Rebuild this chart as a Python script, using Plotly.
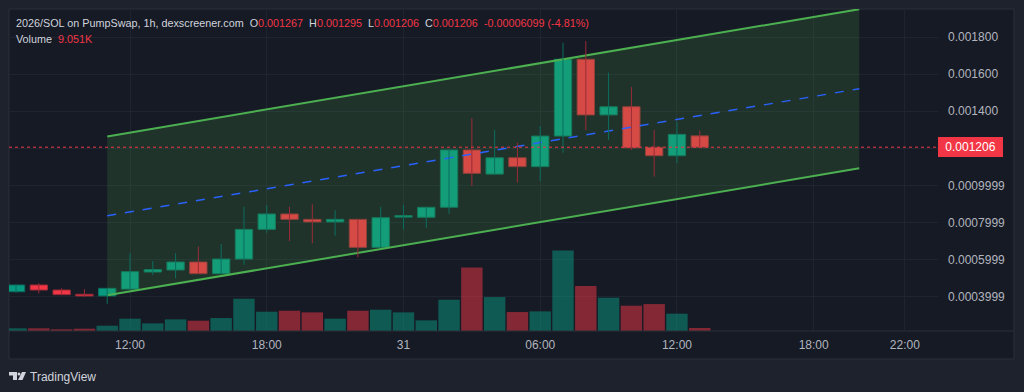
import plotly.graph_objects as go
import pandas as pd

# ---------------- data ----------------
start_time = "2025-03-30 07:00"
n = 31
times = pd.date_range(start_time, periods=n, freq="h")

opens = [0.000427, 0.000463, 0.000436, 0.000413, 0.000404, 0.000441, 0.000533, 0.000544,
         0.000587, 0.000524, 0.000603, 0.000763, 0.000846, 0.000817, 0.000803, 0.000817,
         0.000666, 0.000829, 0.000828, 0.000882, 0.001191, 0.001061, 0.001149, 0.001101,
         0.001266, 0.001680, 0.001380, 0.001424, 0.001205, 0.001160, 0.001267]
highs = [0.000465, 0.000472, 0.000445, 0.000440, 0.000448, 0.000634, 0.000592, 0.000634,
         0.000670, 0.000684, 0.000885, 0.000894, 0.000885, 0.000898, 0.000867, 0.000820,
         0.000885, 0.000894, 0.000885, 0.001193, 0.001362, 0.001299, 0.001230, 0.001320,
         0.001769, 0.001778, 0.001608, 0.001530, 0.001299, 0.001343, 0.001295]
lows = [0.000421, 0.000418, 0.000411, 0.000400, 0.000361, 0.000441, 0.000517, 0.000499,
        0.000524, 0.000522, 0.000572, 0.000745, 0.000700, 0.000688, 0.000729, 0.000612,
        0.000666, 0.000763, 0.000772, 0.000846, 0.000997, 0.001056, 0.001015, 0.001024,
        0.001176, 0.001299, 0.001245, 0.001191, 0.001047, 0.001119, 0.001206]
closes = [0.000463, 0.000436, 0.000411, 0.000404, 0.000445, 0.000535, 0.000546, 0.000587,
          0.000524, 0.000603, 0.000763, 0.000846, 0.000817, 0.000803, 0.000817, 0.000666,
          0.000826, 0.000831, 0.000882, 0.001191, 0.001065, 0.001149, 0.001101, 0.001266,
          0.001680, 0.001380, 0.001424, 0.001203, 0.001160, 0.001275, 0.001206]
volumes_k = [8.1, 8.1, 5.1, 6.9, 16, 37, 23, 35, 31, 39, 97, 58, 61, 56, 37, 61,
             64, 56, 32, 94, 191, 102, 57, 59, 242, 135, 100, 76, 81, 52, 9.051]

channel_times = ["2025-03-30 11:00", "2025-03-31 20:00"]
channel_upper = [0.001264, 0.001950]
channel_lower = [0.000408, 0.001092]
channel_mid = [(u + l) / 2 for u, l in zip(channel_upper, channel_lower)]

price_ticks = [0.0004, 0.0006, 0.0008, 0.0010, 0.0012, 0.0014, 0.0016, 0.0018]
price_ticktext = ["0.0003999", "0.0005999", "0.0007999", "0.0009999", "",
                  "0.001400", "0.001600", "0.001800"]
time_ticks = ["2025-03-30 12:00", "2025-03-30 18:00", "2025-03-31 00:00", "2025-03-31 06:00",
              "2025-03-31 12:00", "2025-03-31 18:00", "2025-03-31 22:00"]
time_ticktext = ["12:00", "18:00", "31", "06:00", "12:00", "18:00", "22:00"]

last_price = 0.001206
header_title = "2026/SOL on PumpSwap, 1h, dexscreener.com"
header_o, header_h, header_l, header_c = "0.001267", "0.001295", "0.001206", "0.001206"
header_chg = "-0.00006099 (-4.81%)"
volume_label = "9.051K"

# ---------------- styling ----------------
W, H = 1024, 392
L, R, T, B = 9, 938, 9, 331  # plot area pixel box
PW, PH = R - L, B - T
PX_PER_HOUR = 22.79
Y_RANGE = [0.0018 - (B - 37) / 185500, 0.0018 + (37 - T) / 185500]
PRICE_PER_PX = (Y_RANGE[1] - Y_RANGE[0]) / PH

def px_x(x):
    return (x - L) / PW

def px_y(y):
    return (B - y) / PH

UP = "#089981"
DOWN = "#f23645"
UP_WICK = "#0b6e5e"
DOWN_WICK = "#9a2b37"
OUTER = "#1e222d"
PANEL = "#161a25"
GRID = "#1f2431"
TXT = "#b2b5be"
FONT = "Liberation Sans"
HOUR_MS = 3600 * 1000

is_up = [c >= o for o, c in zip(opens, closes)]
vol_colors = ["rgba(8,153,129,0.5)" if u else "rgba(242,54,69,0.5)" for u in is_up]

fig = go.Figure()

# channel fill + lines
fig.add_trace(go.Scatter(x=channel_times, y=channel_lower, mode="lines",
                         line=dict(color="#4caf50", width=2), hoverinfo="skip"))
fig.add_trace(go.Scatter(x=channel_times, y=channel_upper, mode="lines",
                         line=dict(color="#4caf50", width=2), fill="tonexty",
                         fillcolor="rgba(76,175,80,0.17)", hoverinfo="skip"))
fig.add_trace(go.Scatter(x=channel_times, y=channel_mid, mode="lines",
                         line=dict(color="#2962ff", width=1.5, dash="dash"),
                         hoverinfo="skip"))

# volume (overlay axis, bottom quarter)
fig.add_trace(go.Bar(x=times, y=volumes_k, width=0.94 * HOUR_MS,
                     marker=dict(color=vol_colors, line=dict(width=0)),
                     yaxis="y2", hoverinfo="skip"))

# wicks
for up, col in [(True, UP_WICK), (False, DOWN_WICK)]:
    wx, wy = [], []
    for t, h, l, u in zip(times, highs, lows, is_up):
        if u == up:
            wx += [t, t, None]
            wy += [l, h, None]
    fig.add_trace(go.Scatter(x=wx, y=wy, mode="lines", line=dict(color=col, width=1),
                             hoverinfo="skip"))

# bodies
min_body = 1.5 * PRICE_PER_PX
for up, fill, edge in [(True, UP, UP_WICK), (False, DOWN, DOWN_WICK)]:
    bx, bb, bh = [], [], []
    for t, o, c, u in zip(times, opens, closes, is_up):
        if u == up:
            bx.append(t)
            bb.append(min(o, c))
            bh.append(max(abs(c - o), min_body))
    fig.add_trace(go.Bar(x=bx, y=bh, base=bb, width=0.76 * HOUR_MS,
                         marker=dict(color=fill, line=dict(color=edge, width=1)),
                         hoverinfo="skip"))

x_left = pd.Timestamp("2025-03-30 12:00") - pd.Timedelta(hours=(130 - L) / PX_PER_HOUR)
x_right = pd.Timestamp("2025-03-30 12:00") + pd.Timedelta(hours=(R - 130) / PX_PER_HOUR)

fig.update_layout(
    width=W, height=H,
    margin=dict(l=L, r=W - R, t=T, b=H - B, autoexpand=False),
    paper_bgcolor=OUTER, plot_bgcolor=PANEL,
    barmode="overlay",
    showlegend=False,
    font=dict(family=FONT, color=TXT, size=12),
    xaxis=dict(type="date", range=[x_left, x_right], tickvals=time_ticks,
               ticktext=time_ticktext, showgrid=True, gridcolor=GRID, gridwidth=1,
               zeroline=False, showline=False, ticks="", automargin=False,
               ticklabelstandoff=5, tickfont=dict(size=12, color=TXT, family=FONT)),
    yaxis=dict(range=Y_RANGE, side="right", tickvals=price_ticks, ticktext=price_ticktext,
               showgrid=True, gridcolor=GRID, gridwidth=1, zeroline=False,
               showline=False, ticks="", automargin=False, ticklabelstandoff=9,
               tickfont=dict(size=12, color=TXT, family=FONT)),
    yaxis2=dict(overlaying="y", range=[0, max(volumes_k) * PH / 80.5], showgrid=False,
                showticklabels=False, zeroline=False, automargin=False, side="left"),
)

shapes = [
    dict(type="rect", xref="paper", yref="paper", x0=px_x(9), x1=px_x(1014),
         y0=px_y(359), y1=px_y(9), fillcolor=PANEL, line=dict(color="#2a2e39", width=1),
         layer="below"),
    dict(type="line", xref="paper", yref="paper", x0=px_x(9), x1=px_x(1014),
         y0=0, y1=0, line=dict(color="#2a2e39", width=1)),
    dict(type="line", xref="paper", yref="y", x0=0, x1=1, y0=last_price, y1=last_price,
         line=dict(color=DOWN, width=1, dash="dot")),
    # TradingView logo
    dict(type="path", xref="paper", yref="paper",
         path=f"M {px_x(9)} {px_y(372)} L {px_x(17)} {px_y(372)} L {px_x(17)} {px_y(380)} "
              f"L {px_x(13)} {px_y(380)} L {px_x(13)} {px_y(375.5)} L {px_x(9)} {px_y(375.5)} Z",
         fillcolor="#d1d4dc", line=dict(width=0)),
    dict(type="circle", xref="paper", yref="paper", x0=px_x(17.5), x1=px_x(20.5),
         y0=px_y(375.5), y1=px_y(372.5), fillcolor="#d1d4dc", line=dict(width=0)),
    dict(type="path", xref="paper", yref="paper",
         path=f"M {px_x(22)} {px_y(372)} L {px_x(26)} {px_y(372)} L {px_x(22.5)} {px_y(380)} "
              f"L {px_x(18)} {px_y(380)} Z",
         fillcolor="#d1d4dc", line=dict(width=0)),
]
fig.update_layout(shapes=shapes)

red = f"color:{DOWN}"
header = (f"{header_title}  O<span style='{red}'>{header_o}</span>  "
          f"H<span style='{red}'>{header_h}</span>  L<span style='{red}'>{header_l}</span>  "
          f"C<span style='{red}'>{header_c}</span>  <span style='{red}'>{header_chg}</span>")
annotations = [
    dict(xref="paper", yref="paper", x=px_x(15), y=px_y(23), xanchor="left", yanchor="middle",
         text=header, showarrow=False, borderpad=0,
         font=dict(size=10.8, color="#d1d4dc", family=FONT)),
    dict(xref="paper", yref="paper", x=px_x(15), y=px_y(39), xanchor="left", yanchor="middle",
         text=f"Volume  <span style='{red}'>{volume_label}</span>", showarrow=False,
         borderpad=0, font=dict(size=10.8, color="#d1d4dc", family=FONT)),
    dict(xref="paper", yref="y", x=1, y=last_price, xanchor="left", yanchor="middle",
         text=f"{last_price:.6f}", showarrow=False, bgcolor=DOWN, bordercolor=DOWN,
         borderwidth=1, borderpad=2, width=59, height=14,
         font=dict(size=12, color="#ffffff", family=FONT)),
    dict(xref="paper", yref="paper", x=px_x(29), y=px_y(377), xanchor="left", yanchor="middle",
         text="TradingView", showarrow=False, borderpad=0,
         font=dict(size=12, color="#d1d4dc", family=FONT)),
]
fig.update_layout(annotations=annotations)

fig.write_html("out.html",
               config={"displayModeBar": False},
               post_script="document.body.style.margin='0';"
                           "document.body.style.background='#1e222d';")
